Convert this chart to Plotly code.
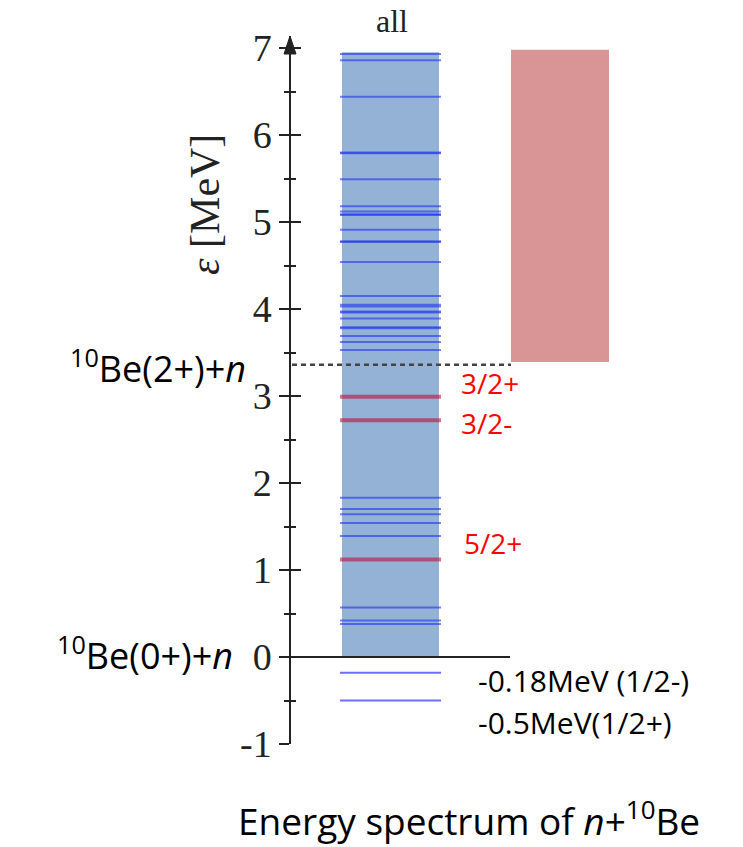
import plotly.graph_objects as go

# ---------------- data ----------------
levels_all = [6.93, 6.86, 6.44, 5.79, 5.80, 5.49, 5.18, 5.12, 5.08, 5.09, 4.91,
              4.77, 4.78, 4.54, 4.15, 4.05, 4.03, 3.96, 3.97, 3.89, 3.78, 3.79,
              3.69, 3.62, 3.53, 1.83, 1.70, 1.64, 1.54, 1.39, 0.57, 0.42, 0.38]
levels_res = [2.99, 2.72, 1.12]
res_labels = ["3/2+", "3/2-", "5/2+"]
levels_bound = [-0.18, -0.50]
bound_labels = ["-0.18MeV (1/2-)", "-0.5MeV(1/2+)"]
band_all = (0.0, 6.95)
band_res = (3.39, 6.98)
thresholds = [0.0, 3.36]
threshold_labels = ["<sup>10</sup>Be(0+)+<i>n</i>", "<sup>10</sup>Be(2+)+<i>n</i>"]
tick_vals = [-1, 0, 1, 2, 3, 4, 5, 6, 7]
tick_text = ["-1", "0", "1", "2", "3", "4", "5", "6", "7"]

# ---------------- layout constants ----------------
W, H = 743, 847
Y0PX, PXPER = 657.0, 87.0          # pixel row of E=0, pixels per MeV
def E_of(py):
    return (Y0PX - py) / PXPER
def pap(py):
    return (H - py) / H

AX_X = 290
BAND_L, BAND_R = 342, 439
LINE_L, LINE_R = 340, 441
RES_L, RES_R = 511, 609
top_px, bot_px = 36, 744
yrange = [E_of(bot_px), E_of(top_px)]
ydomain = [pap(bot_px), pap(top_px)]

def seg(vals, x0, x1):
    xs, ys = [], []
    for v in vals:
        xs += [x0, x1, None]
        ys += [v, v, None]
    return xs, ys

fig = go.Figure()

# continuum bands
fig.add_trace(go.Bar(x=[(BAND_L + BAND_R) / 2], y=[band_all[1] - band_all[0]], base=[band_all[0]],
                     width=[BAND_R - BAND_L], marker=dict(color="#94b2d6", line=dict(width=0)),
                     showlegend=False, hoverinfo="skip"))
fig.add_trace(go.Bar(x=[(RES_L + RES_R) / 2], y=[band_res[1] - band_res[0]], base=[band_res[0]],
                     width=[RES_R - RES_L], marker=dict(color="#d99595", line=dict(width=0)),
                     showlegend=False, hoverinfo="skip"))

# levels
xs, ys = seg(levels_all, LINE_L, LINE_R)
fig.add_trace(go.Scatter(x=xs, y=ys, mode="lines", line=dict(color="rgba(30,50,240,0.6)", width=2),
                         showlegend=False, hoverinfo="skip"))
xs, ys = seg(levels_res, LINE_L, LINE_R)
fig.add_trace(go.Scatter(x=xs, y=ys, mode="lines", line=dict(color="rgba(190,0,40,0.55)", width=4),
                         showlegend=False, hoverinfo="skip"))
xs, ys = seg(levels_bound, LINE_L, LINE_R)
fig.add_trace(go.Scatter(x=xs, y=ys, mode="lines", line=dict(color="rgba(60,60,255,0.75)", width=2),
                         showlegend=False, hoverinfo="skip"))
# dummy trace for the overlay axis
fig.add_trace(go.Scatter(x=[None], y=[None], yaxis="y2", showlegend=False, hoverinfo="skip"))

# threshold lines
fig.add_shape(type="line", xref="x", yref="y", x0=AX_X, x1=510, y0=thresholds[0], y1=thresholds[0],
              line=dict(color="#222", width=2))
fig.add_shape(type="line", xref="x", yref="y", x0=AX_X + 2, x1=RES_L, y0=thresholds[1], y1=thresholds[1],
              line=dict(color="#444", width=2.5, dash="5px,4px"))

# axis arrow
tip = yrange[1]
base = E_of(54)
fig.add_shape(type="path", xref="x", yref="y",
              path=f"M {AX_X-6},{base} L {AX_X},{tip} L {AX_X+6},{base} Z",
              fillcolor="#222", line=dict(color="#222", width=1))

serif = "Liberation Serif"
sans = "Open Sans"
ann = []
def A(**kw):
    d = dict(xref="x", yref="paper", showarrow=False, yanchor="middle")
    d.update(kw)
    ann.append(d)

A(x=392, y=pap(21), text="all", font=dict(family=serif, size=32, color="#222"))
A(x=205, y=pap(205), text="<i>ε</i> [MeV]", textangle=-90,
  font=dict(family=serif, size=42, color="#222"))
thr_px = [653, 367]
thr_right = [235, 248]
for lab, py, xr in zip(threshold_labels, thr_px, thr_right):
    A(x=xr, y=pap(py), text=lab, xanchor="right", font=dict(family=sans, size=36, color="black"))
res_px = [383, 423, 543]
res_x = [459, 459, 462]
for lab, py, xl in zip(res_labels, res_px, res_x):
    A(x=xl, y=pap(py), text=lab, xanchor="left", font=dict(family=sans, size=28, color="red"))
bound_px = [680, 722]
for lab, py in zip(bound_labels, bound_px):
    A(x=476, y=pap(py), text=lab, xanchor="left", font=dict(family=sans, size=30, color="black"))
A(x=469, y=pap(818), text="Energy spectrum of <i>n</i>+<sup>10</sup>Be",
  font=dict(family=sans, size=37, color="black"))

axis_common = dict(range=yrange, domain=ydomain, anchor="free", position=AX_X / W, side="left",
                   showgrid=False, zeroline=False, fixedrange=True, automargin=False,
                   tickvals=tick_vals, ticklen=10, tickwidth=1.5, tickcolor="#222")
fig.update_layout(
    width=W, height=H, margin=dict(l=0, r=0, t=0, b=0, autoexpand=False),
    paper_bgcolor="white", plot_bgcolor="rgba(0,0,0,0)",
    barmode="overlay", showlegend=False,
    xaxis=dict(range=[0, W], domain=[0, 1], visible=False, fixedrange=True, automargin=False),
    yaxis=dict(**axis_common, ticks="outside", ticktext=tick_text, showline=True,
               linecolor="#222", linewidth=1.5,
               tickfont=dict(family=serif, size=38, color="#222"),
               minor=dict(ticks="outside", ticklen=5, tickwidth=1.5, tickcolor="#222",
                          tick0=0, dtick=0.5, showgrid=False)),
    yaxis2=dict(**axis_common, overlaying="y", ticks="inside", showticklabels=False, showline=False,
                minor=dict(ticks="inside", ticklen=5, tickwidth=1.5, tickcolor="#222",
                           tick0=0, dtick=0.5, showgrid=False)),
    annotations=ann,
)

fig.write_html("out.html")
